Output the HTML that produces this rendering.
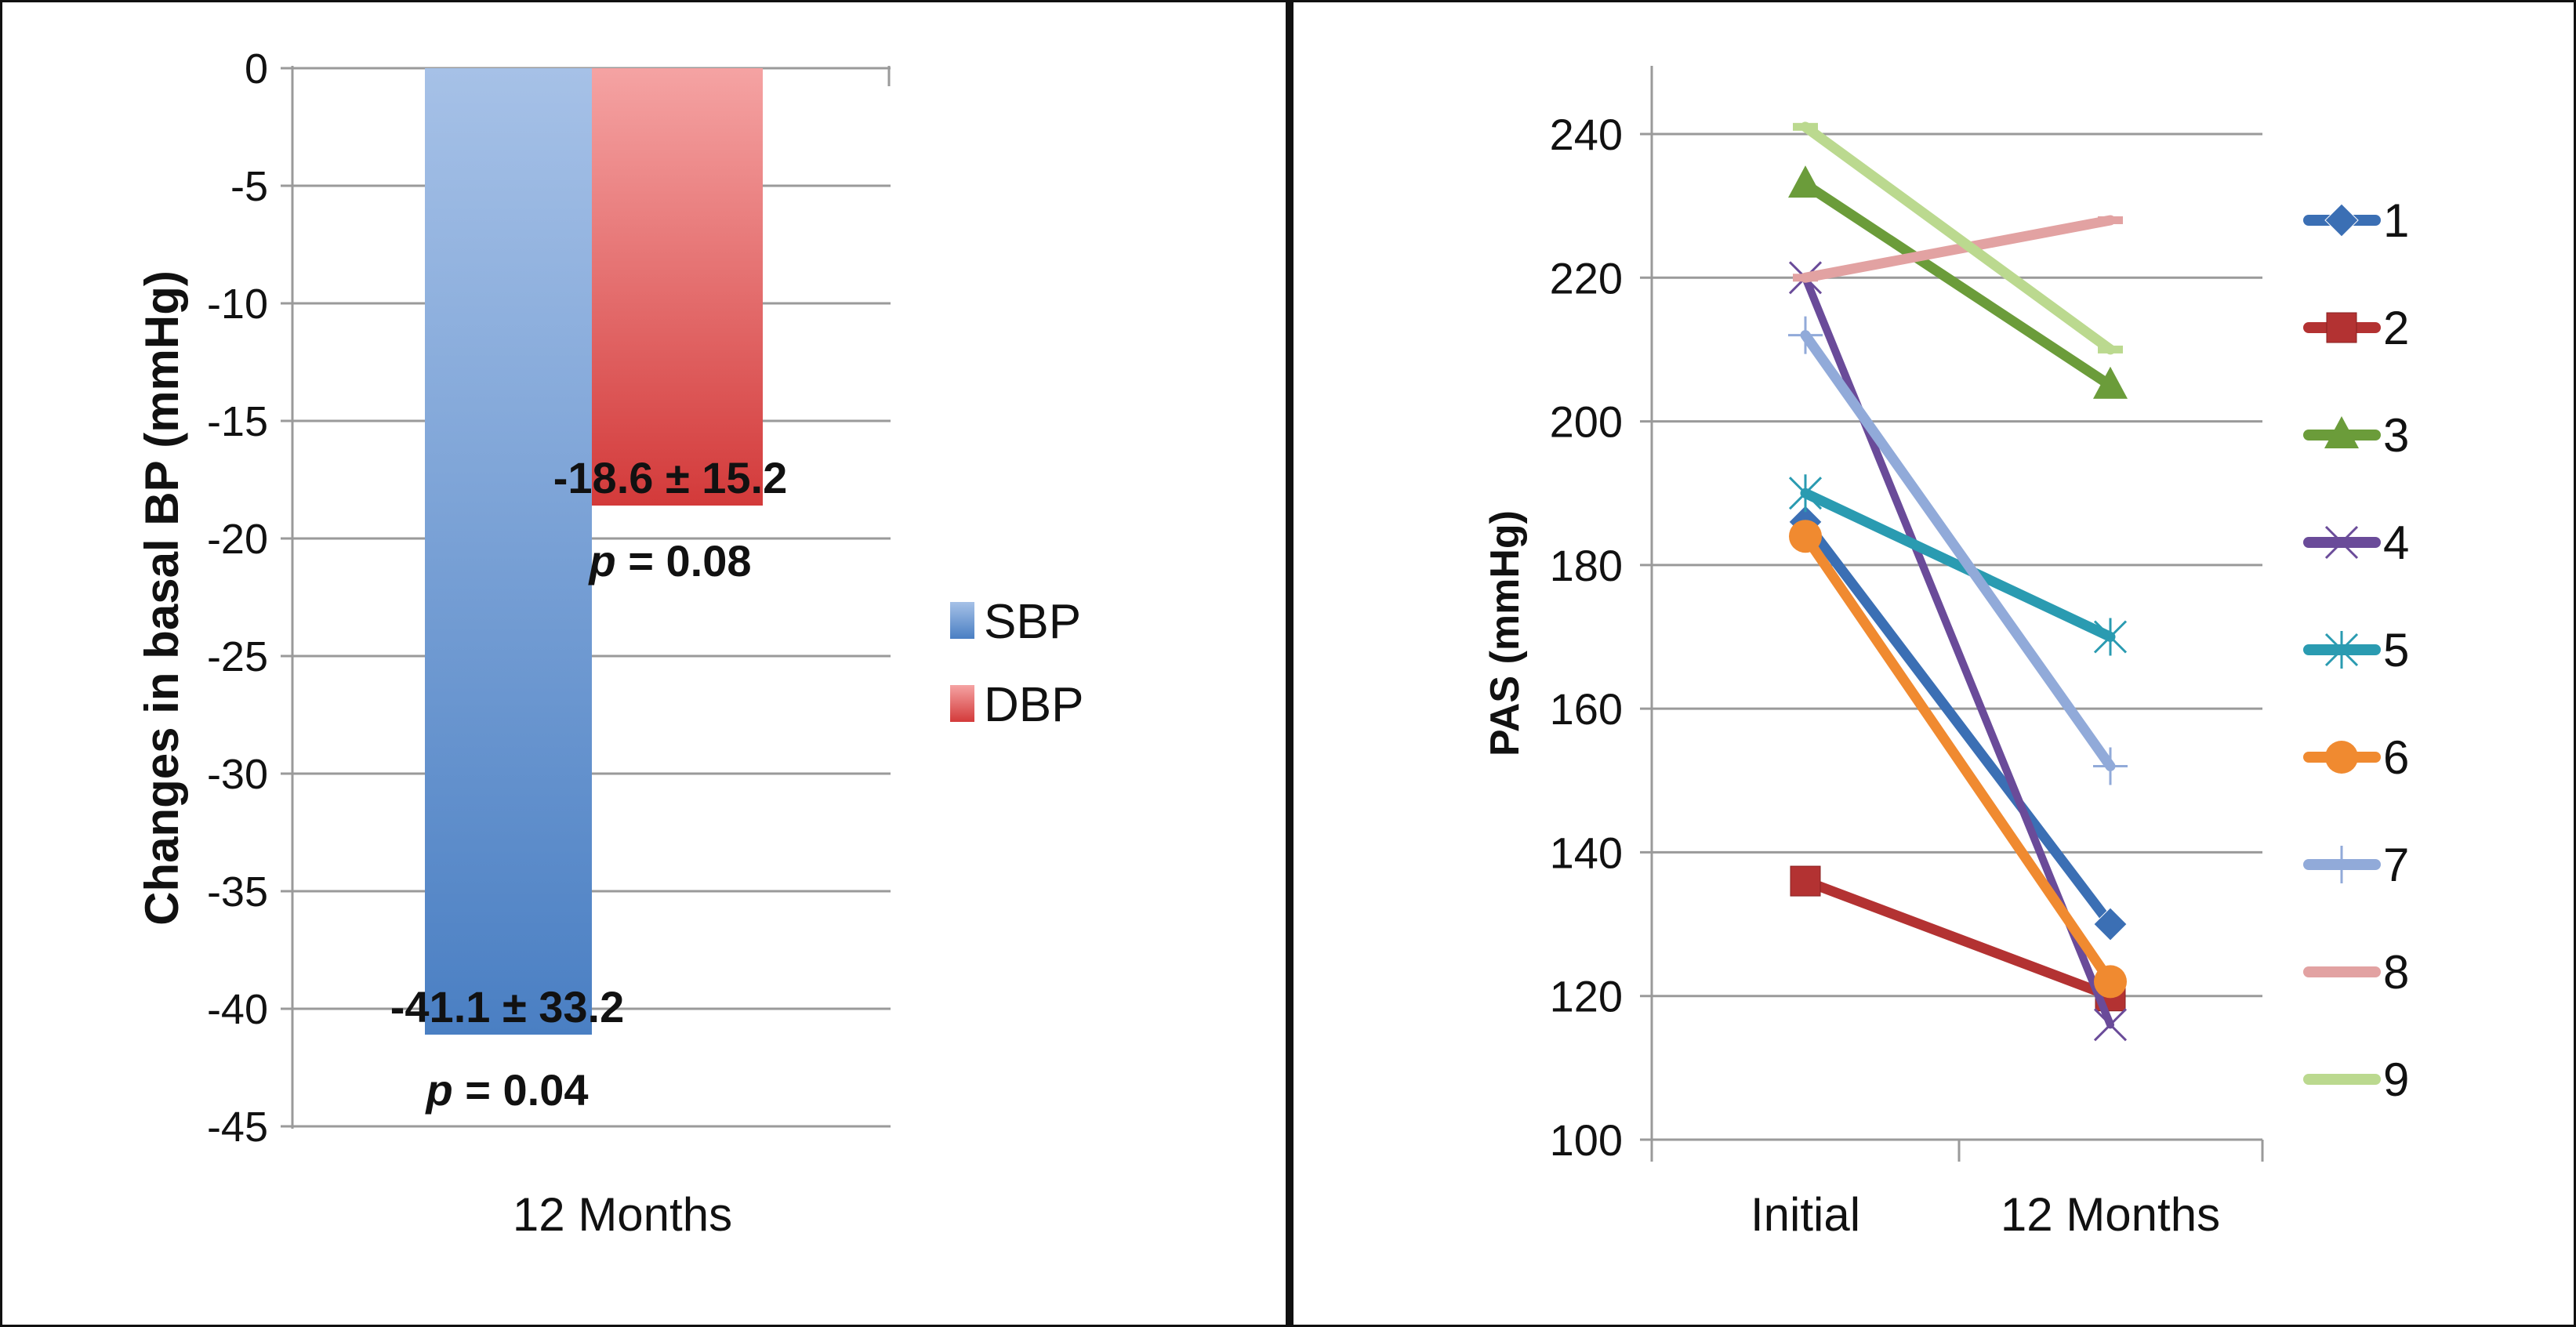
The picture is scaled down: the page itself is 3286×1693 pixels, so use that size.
<!DOCTYPE html>
<html><head><meta charset="utf-8"><style>
html,body{margin:0;padding:0;background:#fff}
svg{display:block}
text{font-family:"Liberation Sans Narrow","Liberation Sans",sans-serif}
</style></head><body>
<svg id="svg" width="3286" height="1693" viewBox="0 0 3286 1693" xmlns="http://www.w3.org/2000/svg">
<defs>
<linearGradient id="gS" x1="0" y1="0" x2="0" y2="1"><stop offset="0" stop-color="#a6c1e7"/><stop offset="1" stop-color="#4a7fc3"/></linearGradient>
<linearGradient id="gD" x1="0" y1="0" x2="0" y2="1"><stop offset="0" stop-color="#f5a3a3"/><stop offset="1" stop-color="#d33a3a"/></linearGradient>
</defs>
<rect x="1.5" y="1.5" width="3283" height="1690" fill="none" stroke="#111" stroke-width="3"/>
<rect x="1640" y="0" width="10" height="1693" fill="#111"/>
<g id="left"></g>
<g id="right"></g>
</svg>
<script>
const NS="http://www.w3.org/2000/svg";
function mk(parent,tag,attrs,txt){const e=document.createElementNS(NS,tag);for(const k in attrs)e.setAttribute(k,attrs[k]);if(txt!==undefined)e.textContent=txt;parent.appendChild(e);return e;}

// ---- Left chart data ----
const barSeries=["SBP","DBP"];
const barValues=[-41.1,-18.6];
const barLabels=["-41.1 ± 33.2","-18.6 ± 15.2"];
const barPvals=["0.04","0.08"];
const leftTicks=[0,-5,-10,-15,-20,-25,-30,-35,-40,-45];
const barCategory="12 Months";

// ---- Right chart data ----
const lineCategories=["Initial","12 Months"];
const patients=["1","2","3","4","5","6","7","8","9"];
const initialVals=[186,136,233,220,190,184,212,220,241];
const monthVals=[130,120,205,116,170,122,152,228,210];
const rightTicks=[100,120,140,160,180,200,220,240];

const L=document.getElementById('left');
const yL=v=>87+(0-v)/45*1350;
leftTicks.forEach(t=>{
  const g=mk(L,'line',{x1:358,x2:1136,y1:yL(t),y2:yL(t),stroke:'#9a9a9a','stroke-width':3});
  
  
  const tx=mk(L,'text',{x:342,y:yL(t)+19,'text-anchor':'end','font-size':54,fill:'#111'},String(t));
  
  
});
mk(L,'line',{x1:373,x2:373,y1:84,y2:1440,stroke:'#9a9a9a','stroke-width':3,});
mk(L,'line',{x1:1134,x2:1134,y1:84,y2:110,stroke:'#9a9a9a','stroke-width':3,});
const bx=[542,755],bw=[213,218],fills=['url(#gS)','url(#gD)'];
barValues.forEach((v,i)=>{
  const r=mk(L,'rect',{x:bx[i],y:yL(0),width:bw[i],height:yL(v)-yL(0),fill:fills[i]});
  
  
  const cx=i===0?647:855;
  const t1=mk(L,'text',{x:cx,y:yL(v)-16,'text-anchor':'middle','font-size':56,'font-weight':'bold',fill:'#111'},barLabels[i]);
  
  
  const t2=mk(L,'text',{x:cx,y:yL(v)+90,'text-anchor':'middle','font-size':56,'font-weight':'bold',fill:'#111'});
  
  
  mk(t2,'tspan',{'font-style':'italic'},'p');
  mk(t2,'tspan',{},' = '+barPvals[i]);
});
mk(L,'text',{x:794,y:1570,'text-anchor':'middle','font-size':60,fill:'#111',},barCategory);
mk(L,'text',{x:0,y:0,transform:'translate(227,763) rotate(-90)','text-anchor':'middle','font-size':60,'font-weight':'bold',fill:'#111',},'Changes in basal BP (mmHg)');
barSeries.forEach((s,i)=>{
  const y=768+i*106;
  const r=mk(L,'rect',{x:1212,y:y,width:31,height:47,fill:fills[i]});
  
  
  const t=mk(L,'text',{x:1255,y:y+46,'font-size':62,fill:'#111'},s);
  
  
});

// ---- Right chart ----
const R=document.getElementById('right');
const yR=v=>1454-(v-100)/140*1283;
const xR=i=>2303+i*389;
rightTicks.forEach(t=>{
  const g=mk(R,'line',{x1:2092,x2:2886,y1:yR(t),y2:yR(t),stroke:'#9a9a9a','stroke-width':3});
  
  
  const tx=mk(R,'text',{x:2070,y:yR(t)+20,'text-anchor':'end','font-size':56,fill:'#111'},String(t));
  
  
});
mk(R,'line',{x1:2107,x2:2107,y1:84,y2:1482,stroke:'#9a9a9a','stroke-width':3,});
[2499,2886].forEach(x=>mk(R,'line',{x1:x,x2:x,y1:1454,y2:1482,stroke:'#9a9a9a','stroke-width':3,}));
lineCategories.forEach((c,i)=>{
  const t=mk(R,'text',{x:xR(i),y:1570,'text-anchor':'middle','font-size':60,fill:'#111'},c);
  
  
});
mk(R,'text',{x:0,y:0,transform:'translate(1937,808) rotate(-90)','text-anchor':'middle','font-size':52,'font-weight':'bold',fill:'#111',},'PAS (mmHg)');
const cols=['#3b6fb4','#b33232','#6b9c3a','#6a4b99','#2a9bb1','#f08a30','#91aad9','#e2a2a2','#bbd98f'];
const widths=[13,13,13,10,13,13,13,13,13];
function marker(g,k,x,y,c){
  if(k===0) mk(g,'polygon',{points:`${x},${y-21} ${x+21},${y} ${x},${y+21} ${x-21},${y}`,fill:c,stroke:'#fff','stroke-width':1});
  else if(k===1) mk(g,'rect',{x:x-19,y:y-19,width:38,height:38,fill:c,stroke:'#8a2020','stroke-width':1});
  else if(k===2) mk(g,'polygon',{points:`${x},${y-24} ${x+22},${y+17} ${x-22},${y+17}`,fill:c});
  else if(k===3){mk(g,'path',{d:`M${x-20},${y-20}L${x+20},${y+20}M${x+20},${y-20}L${x-20},${y+20}`,stroke:c,'stroke-width':3});}
  else if(k===4){mk(g,'path',{d:`M${x-20},${y-20}L${x+20},${y+20}M${x+20},${y-20}L${x-20},${y+20}M${x},${y-24}L${x},${y+24}`,stroke:c,'stroke-width':3});}
  else if(k===5) mk(g,'circle',{cx:x,cy:y,r:21,fill:c});
  else if(k===6){mk(g,'path',{d:`M${x-22},${y}L${x+22},${y}M${x},${y-24}L${x},${y+24}`,stroke:c,'stroke-width':3});}
  else mk(g,'rect',{x:x-16,y:y-5,width:32,height:10,fill:c});
}
patients.forEach((p,i)=>{
  const g=mk(R,'g',{});
  
  
  mk(g,'line',{x1:xR(0),y1:yR(initialVals[i]),x2:xR(1),y2:yR(monthVals[i]),stroke:cols[i],'stroke-width':widths[i],'stroke-linecap':'round'});
  marker(g,i,xR(0),yR(initialVals[i]),cols[i]);
  marker(g,i,xR(1),yR(monthVals[i]),cols[i]);
  const ly=281+i*137;
  const lg=mk(R,'g',{});
  
  
  mk(lg,'line',{x1:2945,x2:3030,y1:ly,y2:ly,stroke:cols[i],'stroke-width':14,'stroke-linecap':'round'});
  marker(lg,i,2987,ly,cols[i]);
  mk(lg,'text',{x:3040,y:ly+21,'font-size':60,fill:'#111'},p);
});
</script>
</body></html>
